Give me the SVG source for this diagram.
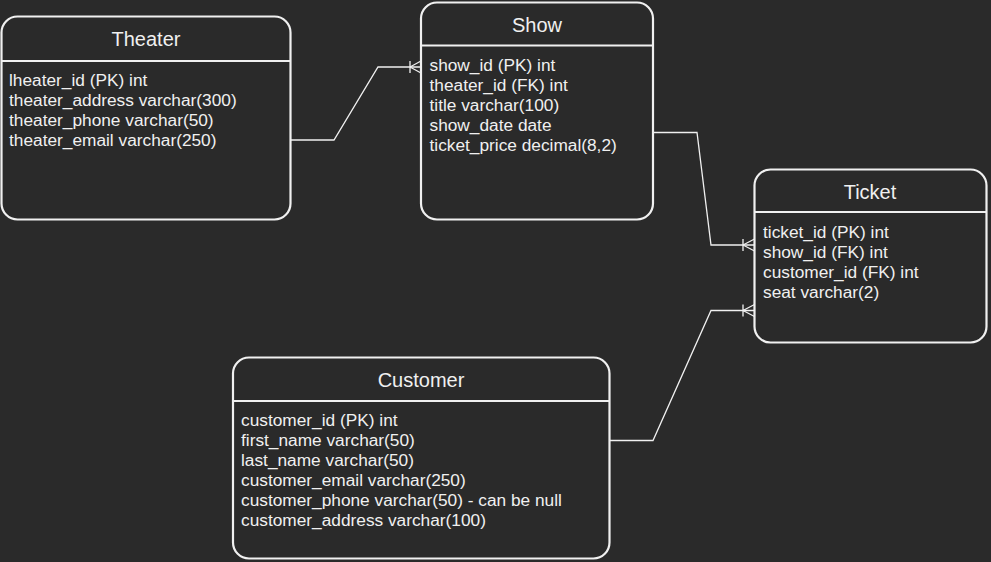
<svg xmlns="http://www.w3.org/2000/svg" width="991" height="562" viewBox="0 0 991 562">
<style>
.box{fill:#2a2a2a;stroke:#f0f0f0;stroke-width:2.2}
.sep{stroke:#f0f0f0;stroke-width:2.2}
.title{font-family:"Liberation Sans",Arial,sans-serif;font-size:20px;fill:#f0f0f0;text-anchor:middle}
.body{font-family:"Liberation Sans",Arial,sans-serif;font-size:17.3px;fill:#f0f0f0}
.conn{fill:none;stroke:#f0f0f0;stroke-width:1.3}
</style>
<rect x="0" y="0" width="991" height="562" fill="#2a2a2a"/>
<g id="theater">
<rect class="box" x="1.5" y="16.5" width="289" height="203" rx="16"/>
<line class="sep" x1="1.5" y1="61" x2="290.5" y2="61"/>
<text class="title" x="146" y="46">Theater</text>
<text class="body"><tspan x="9" y="86">lheater_id (PK) int</tspan><tspan x="9" y="106">theater_address varchar(300)</tspan><tspan x="9" y="126">theater_phone varchar(50)</tspan><tspan x="9" y="146">theater_email varchar(250)</tspan></text>
</g>
<g id="show">
<rect class="box" x="421" y="2.5" width="232" height="217" rx="16"/>
<line class="sep" x1="421" y1="45.5" x2="653" y2="45.5"/>
<text class="title" x="537" y="32">Show</text>
<text class="body"><tspan x="429.5" y="71">show_id (PK) int</tspan><tspan x="429.5" y="91">theater_id (FK) int</tspan><tspan x="429.5" y="111">title varchar(100)</tspan><tspan x="429.5" y="131">show_date date</tspan><tspan x="429.5" y="151">ticket_price decimal(8,2)</tspan></text>
</g>
<g id="ticket">
<rect class="box" x="754.5" y="169.5" width="232" height="173" rx="16"/>
<line class="sep" x1="754.5" y1="212" x2="986.5" y2="212"/>
<text class="title" x="870" y="199">Ticket</text>
<text class="body"><tspan x="763" y="238">ticket_id (PK) int</tspan><tspan x="763" y="258">show_id (FK) int</tspan><tspan x="763" y="278">customer_id (FK) int</tspan><tspan x="763" y="298">seat varchar(2)</tspan></text>
</g>
<g id="customer">
<rect class="box" x="233" y="357.5" width="376.5" height="201" rx="16"/>
<line class="sep" x1="233" y1="401" x2="609.5" y2="401"/>
<text class="title" x="421" y="387">Customer</text>
<text class="body"><tspan x="241" y="426">customer_id (PK) int</tspan><tspan x="241" y="446">first_name varchar(50)</tspan><tspan x="241" y="466">last_name varchar(50)</tspan><tspan x="241" y="486">customer_email varchar(250)</tspan><tspan x="241" y="506">customer_phone varchar(50) - can be null</tspan><tspan x="241" y="526">customer_address varchar(100)</tspan></text>
</g>
<g id="connectors">
<path class="conn" d="M290.5 140 H334 L378 67 H421"/>
<path class="conn" d="M410 61 V73 M410 67 L421 61 M410 67 L421 73"/>
<path class="conn" d="M653 132.5 H697 L711 245 H754.5"/>
<path class="conn" d="M743 239 V251 M743 245 L754.5 239 M743 245 L754.5 251"/>
<path class="conn" d="M609.5 440.5 H653 L711 310.5 H754.5"/>
<path class="conn" d="M743 304.5 V316.5 M743 310.5 L754.5 304.5 M743 310.5 L754.5 316.5"/>
</g>
</svg>
